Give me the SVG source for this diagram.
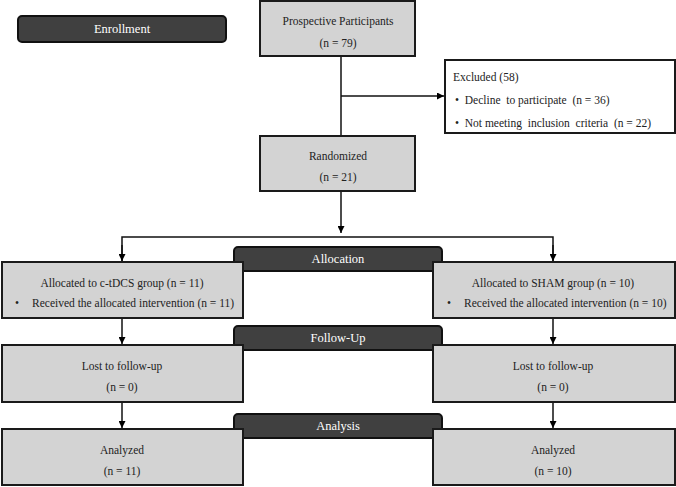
<svg xmlns="http://www.w3.org/2000/svg" width="676" height="487" viewBox="0 0 676 487" font-family="'Liberation Serif', 'Times New Roman', serif">
<defs>
<marker id="ah" viewBox="0 0 10 10" refX="10" refY="5" markerWidth="7" markerHeight="7" markerUnits="userSpaceOnUse" orient="auto">
<path d="M0,0 L10,5 L0,10 z" fill="#000"/>
</marker>
<style>
.box{fill:#d3d3d3;stroke:#1a1a1a;stroke-width:2}
.wbox{fill:#fff;stroke:#1a1a1a;stroke-width:2}
.dark{fill:#404040;stroke:#111;stroke-width:2}
text{font-family:'Liberation Serif','Times New Roman',serif;font-size:11.5px;fill:#222}
.c{text-anchor:middle}
.w{fill:#fff;font-size:12.5px}
.ln{fill:none;stroke:#111;stroke-width:1.5}
</style>
</defs>
<rect width="676" height="487" fill="#fff"/>
<g id="enrollment"><rect class="dark" x="18" y="16" width="208" height="26" rx="4"/><text class="c w" x="122" y="33">Enrollment</text></g>
<g id="allocation-label"><rect class="dark" x="234" y="247" width="208" height="24" rx="4"/><text class="c w" x="338" y="263">Allocation</text></g>
<g id="followup-label"><rect class="dark" x="234" y="326" width="208" height="24" rx="4"/><text class="c w" x="338" y="342">Follow-Up</text></g>
<g id="analysis-label"><rect class="dark" x="234" y="414" width="208" height="24" rx="4"/><text class="c w" x="338" y="430">Analysis</text></g>
<g id="connectors">
<path class="ln" d="M341,56 V136"/>
<path class="ln" d="M341,96 H444" marker-end="url(#ah)"/>
<path class="ln" d="M341,191 V233" marker-end="url(#ah)"/>
<path class="ln" d="M122,261 V237 H553 V261" />
<path class="ln" d="M122,245 V261" marker-end="url(#ah)"/>
<path class="ln" d="M553,245 V261" marker-end="url(#ah)"/>
<path class="ln" d="M122,318 V344" marker-end="url(#ah)"/>
<path class="ln" d="M553,318 V344" marker-end="url(#ah)"/>
<path class="ln" d="M122,402 V428" marker-end="url(#ah)"/>
<path class="ln" d="M553,402 V428" marker-end="url(#ah)"/>
</g>
<g id="prospective"><rect class="box" x="260" y="1" width="155" height="55"/><text class="c" x="338" y="25">Prospective Participants</text><text class="c" x="338" y="47">(n = 79)</text></g>
<g id="excluded"><rect class="wbox" x="445" y="60" width="230" height="73"/><text x="453" y="81">Excluded  (58)</text><text x="455" y="104" xml:space="preserve">•  Decline  to participate  (n = 36)</text><text x="455" y="127" xml:space="preserve">•  Not meeting  inclusion  criteria  (n = 22)</text></g>
<g id="randomized"><rect class="box" x="260" y="136" width="155" height="55"/><text class="c" x="338" y="160">Randomized</text><text class="c" x="338" y="181">(n = 21)</text></g>
<g id="alloc-ctdcs"><rect class="box" x="2" y="262" width="241" height="56"/><text class="c" x="122" y="287">Allocated  to c-tDCS group (n = 11)</text><text x="15" y="307">•</text><text x="32" y="307">Received the allocated intervention  (n = 11)</text></g>
<g id="alloc-sham"><rect class="box" x="433" y="262" width="242" height="56"/><text class="c" x="553" y="287">Allocated  to SHAM  group (n = 10)</text><text x="447" y="307">•</text><text x="464" y="307">Received the allocated intervention  (n = 10)</text></g>
<g id="lost-ctdcs"><rect class="box" x="2" y="345" width="241" height="57"/><text class="c" x="122" y="370">Lost to follow-up</text><text class="c" x="122" y="391">(n = 0)</text></g>
<g id="lost-sham"><rect class="box" x="433" y="345" width="242" height="57"/><text class="c" x="553" y="370">Lost to follow-up</text><text class="c" x="553" y="391">(n = 0)</text></g>
<g id="analyzed-ctdcs"><rect class="box" x="2" y="429" width="241" height="56"/><text class="c" x="122" y="454">Analyzed</text><text class="c" x="122" y="475">(n = 11)</text></g>
<g id="analyzed-sham"><rect class="box" x="433" y="429" width="242" height="56"/><text class="c" x="553" y="454">Analyzed</text><text class="c" x="553" y="475">(n = 10)</text></g>
</svg>
